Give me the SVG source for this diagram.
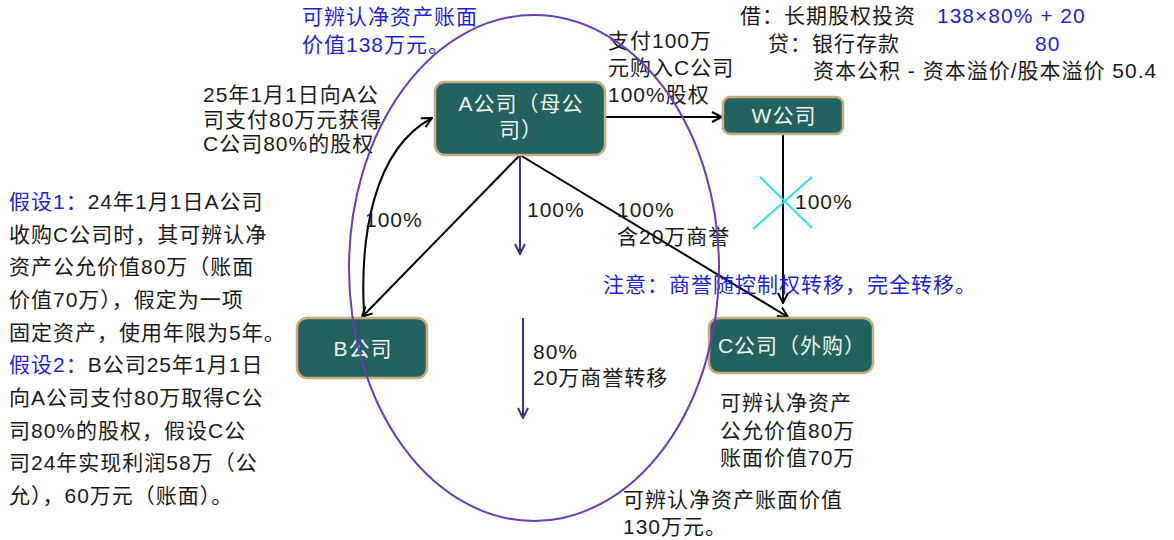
<svg xmlns="http://www.w3.org/2000/svg" width="1174" height="540" viewBox="0 0 1174 540">
<defs>
<style>
text{font-family:"Liberation Sans","Noto Sans CJK SC",sans-serif;font-size:21px;letter-spacing:1px;fill:#1a1a1a}
.blue{fill:#1f1fd6}
.node rect{fill:#22625f;stroke:#c9ab7f;stroke-width:2.5}
.node text{fill:#eef3ef;text-anchor:middle}
.conn{fill:none;stroke:#000;stroke-width:2}
.pur{fill:none;stroke:#3e3272;stroke-width:2}
</style>
<marker id="ah" viewBox="0 0 12 12" refX="11" refY="6" markerWidth="12" markerHeight="12" markerUnits="userSpaceOnUse" orient="auto">
<path d="M1,1 L11,6 L1,11" fill="none" stroke="#000" stroke-width="2"/>
</marker>
<marker id="ahp" viewBox="0 0 12 12" refX="11" refY="6" markerWidth="12" markerHeight="12" markerUnits="userSpaceOnUse" orient="auto">
<path d="M1,1 L11,6 L1,11" fill="none" stroke="#3e3272" stroke-width="2"/>
</marker>
</defs>
<rect width="1174" height="540" fill="#fff"/>

<g id="connectors">
<line class="conn" x1="605" y1="117" x2="722" y2="117" marker-end="url(#ah)"/>
<line class="conn" x1="783" y1="134" x2="783" y2="303" marker-end="url(#ah)"/>
<line class="conn" x1="520" y1="155" x2="362" y2="317" marker-end="url(#ah)"/>
<line class="conn" x1="520" y1="155" x2="788" y2="317" marker-end="url(#ah)"/>
<path class="conn" d="M364,313 C360,240 372,150 432,118" marker-end="url(#ah)"/>
<line class="pur" x1="520" y1="155" x2="520" y2="254" marker-end="url(#ahp)"/>
<line class="pur" x1="523" y1="318" x2="523" y2="418" marker-end="url(#ahp)"/>
<line x1="760" y1="177" x2="812" y2="228" stroke="#2ee3e3" stroke-width="2"/>
<line x1="812" y1="177" x2="753" y2="229" stroke="#2ee3e3" stroke-width="2"/>
</g>

<g id="node-A" class="node">
<rect x="435" y="82" width="170" height="73" rx="10"/>
<text x="521" y="111">A公司（母公</text>
<text x="521" y="137">司）</text>
</g>
<g id="node-W" class="node">
<rect x="723" y="97" width="120" height="37" rx="7"/>
<text x="784" y="123">W公司</text>
</g>
<g id="node-B" class="node">
<rect x="297" y="318" width="130" height="60" rx="10"/>
<text x="363" y="356">B公司</text>
</g>
<g id="node-C" class="node">
<rect x="709" y="318" width="164" height="55" rx="10"/>
<text x="792" y="353">C公司（外购）</text>
</g>

<g id="labels">
<text class="blue" x="302" y="24">可辨认净资产账面</text>
<text class="blue" x="302" y="52">价值138万元。</text>

<text x="203" y="102">25年1月1日向A公</text>
<text x="203" y="127">司支付80万元获得</text>
<text x="203" y="151">C公司80%的股权</text>

<text x="608" y="48">支付100万</text>
<text x="608" y="75">元购入C公司</text>
<text x="608" y="102">100%股权</text>

<text x="740" y="23">借：长期股权投资</text>
<text class="blue" x="937" y="23">138×80% + 20</text>
<text x="768" y="51">贷：银行存款</text>
<text class="blue" x="1035" y="51">80</text>
<text x="813" y="78">资本公积 - 资本溢价/股本溢价 50.4</text>

<text x="9" y="209"><tspan class="blue">假设1：</tspan>24年1月1日A公司</text>
<text x="9" y="242">收购C公司时，其可辨认净</text>
<text x="9" y="274">资产公允价值80万（账面</text>
<text x="9" y="307">价值70万），假定为一项</text>
<text x="9" y="340">固定资产，使用年限为5年。</text>
<text x="9" y="372"><tspan class="blue">假设2：</tspan>B公司25年1月1日</text>
<text x="9" y="405">向A公司支付80万取得C公</text>
<text x="9" y="438">司80%的股权，假设C公</text>
<text x="9" y="470">司24年实现利润58万（公</text>
<text x="9" y="503">允），60万元（账面）。</text>

<text x="365" y="227">100%</text>
<text x="527" y="217">100%</text>
<text x="617" y="217">100%</text>
<text x="617" y="244">含20万商誉</text>
<text x="795" y="209">100%</text>
<text class="blue" x="603" y="292">注意：商誉随控制权转移，完全转移。</text>
<text x="533" y="359">80%</text>
<text x="533" y="385">20万商誉转移</text>
<text x="720" y="410">可辨认净资产</text>
<text x="720" y="438">公允价值80万</text>
<text x="720" y="465">账面价值70万</text>
<text x="623" y="507">可辨认净资产账面价值</text>
<text x="623" y="534">130万元。</text>
</g>

<g id="scope">
<ellipse cx="534" cy="268" rx="185" ry="253" fill="none" stroke="#6b3fb0" stroke-width="2"/>
</g>
</svg>
